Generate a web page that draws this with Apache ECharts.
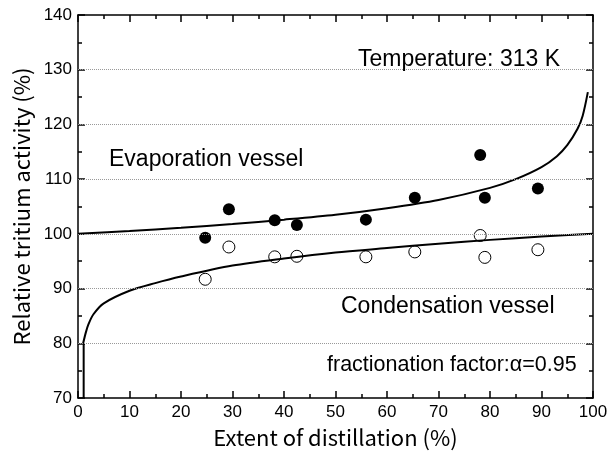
<!DOCTYPE html>
<html>
<head>
<meta charset="utf-8">
<script src="https://cdn.jsdelivr.net/npm/echarts@6/dist/echarts.min.js"></script>
</head>
<body style="margin:0">
<div id="chart" style="width:611px;height:459px"></div>
<script>
var myChart = echarts.init(document.getElementById("chart"));

// measured points (extent of distillation %)
var sampleX = [24.7, 29.3, 38.2, 42.5, 55.9, 65.4, 78.1, 79.0, 89.3];
var evapPoints = [99.3, 104.5, 102.5, 101.6, 102.6, 106.6, 114.4, 106.6, 108.3];
var condPoints = [91.7, 97.6, 95.8, 95.9, 95.8, 96.7, 99.7, 95.7, 97.1];

// calculated curves
var evapCurveX = [0, 10, 20, 30, 40, 50, 60, 70, 80, 85, 90, 93, 95, 97, 98, 99];
var evapCurveY = [100, 100.5, 101.1, 101.8, 102.6, 103.5, 104.7, 106.2, 108.4, 110.0, 112.2, 114.2, 116.2, 119.2, 121.6, 125.9];
var condCurveX = [1, 1.5, 2, 3, 5, 10, 15, 20, 30, 40, 50, 60, 70, 80, 90, 100];
var condCurveY = [80, 81.9, 83.4, 85.3, 87.3, 89.6, 91.0, 92.2, 94.2, 95.5, 96.6, 97.4, 98.2, 98.9, 99.5, 100];
var condDropX = [1.1, 1.1];
var condDropY = [70, 80];

// dotted horizontal grid lines
var gridValues = [80, 90, 100, 110, 120, 130];

function pairs(xs, ys) {
  return xs.map(function (x, i) { return [x, ys[i]]; });
}

var txtFont = 'Liberation Sans, Arial, sans-serif';
var titleFont = 'Noto Sans CJK JP, Liberation Sans, sans-serif';

function ax(pos, isX, name) {
  var o = {
    type: 'value', position: pos,
    axisLine: { show: true, onZero: false, lineStyle: { color: '#000', width: 1.5 } },
    axisTick: { show: true, inside: true, length: 7, lineStyle: { color: '#000', width: 1.5 } },
    minorTick: { show: true, splitNumber: 2, length: 4, lineStyle: { color: '#000', width: 1.5 } },
    splitLine: { show: false }
  };
  if (isX) { o.min = 0; o.max = 100; o.interval = 10; } else { o.min = 70; o.max = 140; o.interval = 10; }
  if (name) {
    o.name = name;
    o.nameLocation = 'middle';
    o.nameGap = isX ? 29 : 42;
    o.nameTextStyle = { fontFamily: titleFont, fontSize: 22, color: '#000' };
    o.axisLabel = { fontFamily: txtFont, fontSize: 17, color: '#000', margin: 6 };
  } else {
    o.axisLabel = { show: false };
  }
  return o;
}

function note(text, left, top, size) {
  return {
    text: text, left: left, top: top, padding: 0,
    textStyle: { fontFamily: txtFont, fontSize: size, fontWeight: 'normal', color: '#000' }
  };
}

myChart.setOption({
  animation: false,
  grid: { left: 78, right: 18, top: 15, bottom: 61 },
  title: [
    note('Temperature: 313 K', 358, 48, 23),
    note('Evaporation vessel', 109, 148, 23),
    note('Condensation vessel', 341, 295, 23),
    note('fractionation factor:\u03b1=0.95', 327, 354, 21.5)
  ],
  xAxis: [ax('bottom', true, 'Extent of distillation (%)'), ax('top', true, null)],
  yAxis: [ax('left', false, 'Relative tritium activity (%)'), ax('right', false, null)],
  series: [
    {
      name: 'grid', type: 'line', data: [], z: 1, silent: true,
      markLine: {
        silent: true, symbol: 'none', label: { show: false },
        lineStyle: { color: '#999', type: 'dotted', width: 1 },
        data: gridValues.map(function (v) { return { yAxis: v }; })
      }
    },
    {
      name: 'Evaporation curve', type: 'line', smooth: 0.3, symbol: 'none',
      lineStyle: { color: '#000', width: 2 },
      data: pairs(evapCurveX, evapCurveY)
    },
    {
      name: 'Condensation curve', type: 'line', smooth: 0.3, symbol: 'none',
      lineStyle: { color: '#000', width: 2 },
      data: pairs(condCurveX, condCurveY)
    },
    {
      name: 'Condensation drop', type: 'line', symbol: 'none',
      lineStyle: { color: '#000', width: 2 },
      data: pairs(condDropX, condDropY)
    },
    {
      name: 'Evaporation vessel', type: 'scatter', symbol: 'circle', symbolSize: 12,
      itemStyle: { color: '#000', opacity: 1 },
      data: pairs(sampleX, evapPoints)
    },
    {
      name: 'Condensation vessel', type: 'scatter', symbol: 'circle', symbolSize: 12,
      itemStyle: { color: '#fff', borderColor: '#000', borderWidth: 1, opacity: 1 },
      data: pairs(sampleX, condPoints)
    }
  ]
});
</script>
</body>
</html>
